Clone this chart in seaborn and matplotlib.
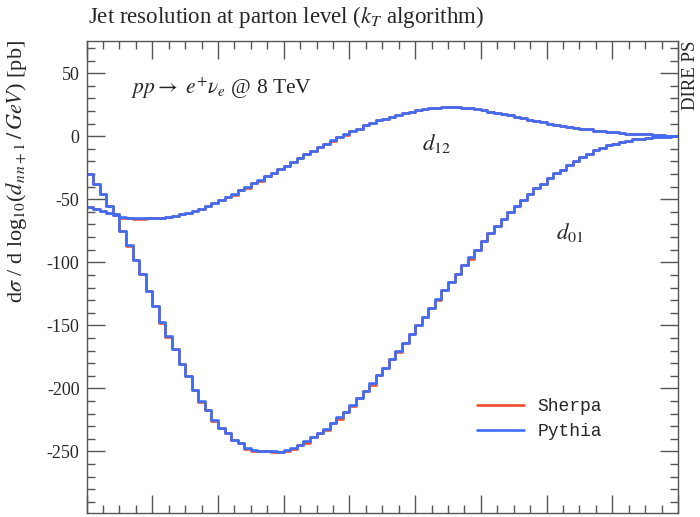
import numpy as np
import pandas as pd
import matplotlib
matplotlib.use('Agg')
import matplotlib.pyplot as plt
import seaborn as sns
from matplotlib.ticker import MultipleLocator
from matplotlib.lines import Line2D

# bin edges of log10(d_{n n+1}/GeV), 90 bins
edges = np.linspace(0.0, 4.5, 91)

# Pythia, d01
pythia_d01 = [-30, -38, -46, -55, -62, -75, -86, -98, -109.5, -123,
              -135, -147, -158.5, -169, -181, -190.5, -201, -210, -217.5, -225,
              -231, -235.5, -240.5, -243.5, -247, -248.5, -249.5, -250, -250, -250.5,
              -248.5, -247, -245, -242, -238.5, -235.5, -232, -227.5, -223, -218.5,
              -213, -207.5, -202, -196, -189.5, -183.5, -177, -170, -164, -156.5,
              -150, -143, -136, -129, -122, -115.5, -109, -102, -96, -90,
              -83, -77, -71, -65.5, -60, -55, -50.5, -46, -41, -37.5,
              -33.5, -29.5, -26.5, -23, -19.5, -16.5, -14, -11, -9, -7,
              -6, -4.5, -3.5, -2.5, -2, -1.5, -1, -0.5, -0.5, 0]
# Sherpa, d01
sherpa_d01 = [-30, -38, -46, -55, -62, -75, -87, -98, -109.5, -123,
              -135, -148, -159.5, -169, -181, -190.5, -201, -211, -217.5, -226,
              -231, -235.5, -240.5, -243.5, -248, -249.5, -249.5, -250, -250.5, -250.5,
              -249.5, -248, -245, -243, -238.5, -235.5, -233, -227.5, -224, -218.5,
              -214, -207.5, -202, -197, -189.5, -183.5, -177, -171, -164, -156.5,
              -150, -143, -136, -130, -122, -115.5, -109, -102, -97, -90,
              -83, -77, -71, -65.5, -60, -55, -50.5, -46, -41, -37.5,
              -33.5, -29.5, -26.5, -23, -19.5, -16.5, -14, -11, -9, -7,
              -6, -4.5, -3.5, -2.5, -2, -1.5, -1, -0.5, -0.5, 0]

# Pythia, d12
pythia_d12 = [-56, -57.5, -59, -61, -62.5, -64, -64.5, -65, -65, -65,
              -65, -64.5, -64, -63, -62, -60.5, -59, -57.5, -55, -53,
              -50.5, -48, -46, -43, -40, -37, -34.5, -31.5, -29, -26,
              -23.5, -20.5, -17, -14, -11.5, -8.5, -6, -3, -1, 1.5,
              4, 6, 8.5, 10.5, 12.5, 14, 15.5, 17, 18.5, 19.5,
              20.5, 21.5, 22, 22.5, 23, 23, 23, 22.5, 22, 21.5,
              20.5, 19.5, 18.5, 17.5, 16.5, 15.5, 14.5, 13, 12, 11,
              10, 9, 8, 7.5, 6.5, 6, 5.5, 4.5, 4, 3.5,
              3, 2.5, 2, 2, 1.5, 1.5, 1, 1, 0.5, 0.5]
# Sherpa, d12
sherpa_d12 = [-56, -57.5, -59, -61, -62.5, -64.5, -65, -65.5, -65.5, -65,
              -65, -64.5, -64, -63.5, -62, -61, -59, -57.5, -55.5, -53,
              -50.5, -48, -47, -43, -41, -37, -35.5, -31.5, -29.5, -26,
              -24, -20.5, -17.5, -14, -12, -8.5, -6, -3.5, -1, 1,
              4, 6, 8.5, 10.5, 12.5, 14, 15.5, 17, 18.5, 19.5,
              20.5, 21.5, 22, 22.5, 23, 23.5, 23, 22.5, 22, 21.5,
              20.5, 19.5, 18.5, 17.5, 16.5, 15.5, 14.5, 13, 12, 11,
              10, 9, 8, 7.5, 6.5, 6, 5.5, 4.5, 4, 3.5,
              3, 2.5, 2, 2, 1.5, 1.5, 1, 1, 0.5, 0.5]

generators = ['Sherpa', 'Pythia']
colors = {'Sherpa': '#ef4f2f', 'Pythia': '#3d6dfa'}

series = {
    ('Sherpa', 'd01'): sherpa_d01,
    ('Sherpa', 'd12'): sherpa_d12,
    ('Pythia', 'd01'): pythia_d01,
    ('Pythia', 'd12'): pythia_d12,
}

rows = []
for (gen, obs), vals in series.items():
    # repeat last value so the last bin is drawn with steps-post
    ys = list(vals) + [vals[-1]]
    for x, y in zip(edges, ys):
        rows.append({'gen': gen, 'obs': gen + obs, 'x': x, 'y': y})
df = pd.DataFrame(rows)

sns.set_style('ticks')
plt.rcParams['font.family'] = ['Liberation Serif', 'DejaVu Serif']
plt.rcParams['mathtext.fontset'] = 'stix'
plt.rcParams['axes.unicode_minus'] = False

fig = plt.figure(figsize=(7, 5.17), dpi=100)
ax = fig.add_axes([0.1236, 0.0072, 0.845, 0.9135])

sns.lineplot(data=df, x='x', y='y', hue='gen', hue_order=generators,
             units='obs', estimator=None, sort=False, palette=colors,
             drawstyle='steps-post', linewidth=1.9, legend=False, ax=ax)

ax.set_xlim(0, 4.5)
ax.set_ylim(-299, 75.5)
ax.xaxis.set_major_locator(MultipleLocator(0.5))
ax.xaxis.set_minor_locator(MultipleLocator(0.125))
ax.yaxis.set_major_locator(MultipleLocator(50))
ax.yaxis.set_minor_locator(MultipleLocator(10))
ax.tick_params(which='both', direction='in', top=True, right=True,
               color='#555555', width=1, labelbottom=False)
ax.tick_params(which='major', length=13, labelsize=13, pad=5)
ax.tick_params(which='minor', length=6)
for sp in ax.spines.values():
    sp.set_color('#555555')
    sp.set_linewidth(1)
ax.set_xlabel('')
ax.set_ylabel('')

fig.text(88 / 700, 1 - 17 / 517, r'Jet resolution at parton level ($k_T$ algorithm)',
         ha='left', va='center', fontsize=16.5)
fig.text(17 / 700, 1 - 40 / 517,
         r'd$\sigma$ / d log$_{10}$($d_{n\,n+1}\,/\,GeV$) [pb]',
         rotation=90, ha='center', va='top', fontsize=16)
fig.text(682 / 700, 1 - 41 / 517, 'DIRE PS', rotation=90,
         ha='left', va='top', fontsize=13.5)

fig.text(131 / 700, 1 - 88 / 517, r'$pp\rightarrow\ e^{+}\nu_{e}$ @ 8 TeV',
         ha='left', va='center', fontsize=15.5)
fig.text(422 / 700, 1 - 143 / 517, r'$d_{12}$', ha='left', va='center', fontsize=16.5)
fig.text(556 / 700, 1 - 233 / 517, r'$d_{01}$', ha='left', va='center', fontsize=16.5)

handles = [Line2D([], [], color=colors[g], lw=1.9) for g in generators]
ax.legend(handles, generators, loc='center left',
          bbox_to_anchor=((477 - 86.5) / 591.5, (513.3 - 419) / 472.3),
          frameon=False, borderpad=0, borderaxespad=0, handlelength=2.6,
          handletextpad=0.75, labelspacing=0.45,
          prop={'family': 'Liberation Mono', 'size': 13})

fig.savefig('out.png', dpi=100)
